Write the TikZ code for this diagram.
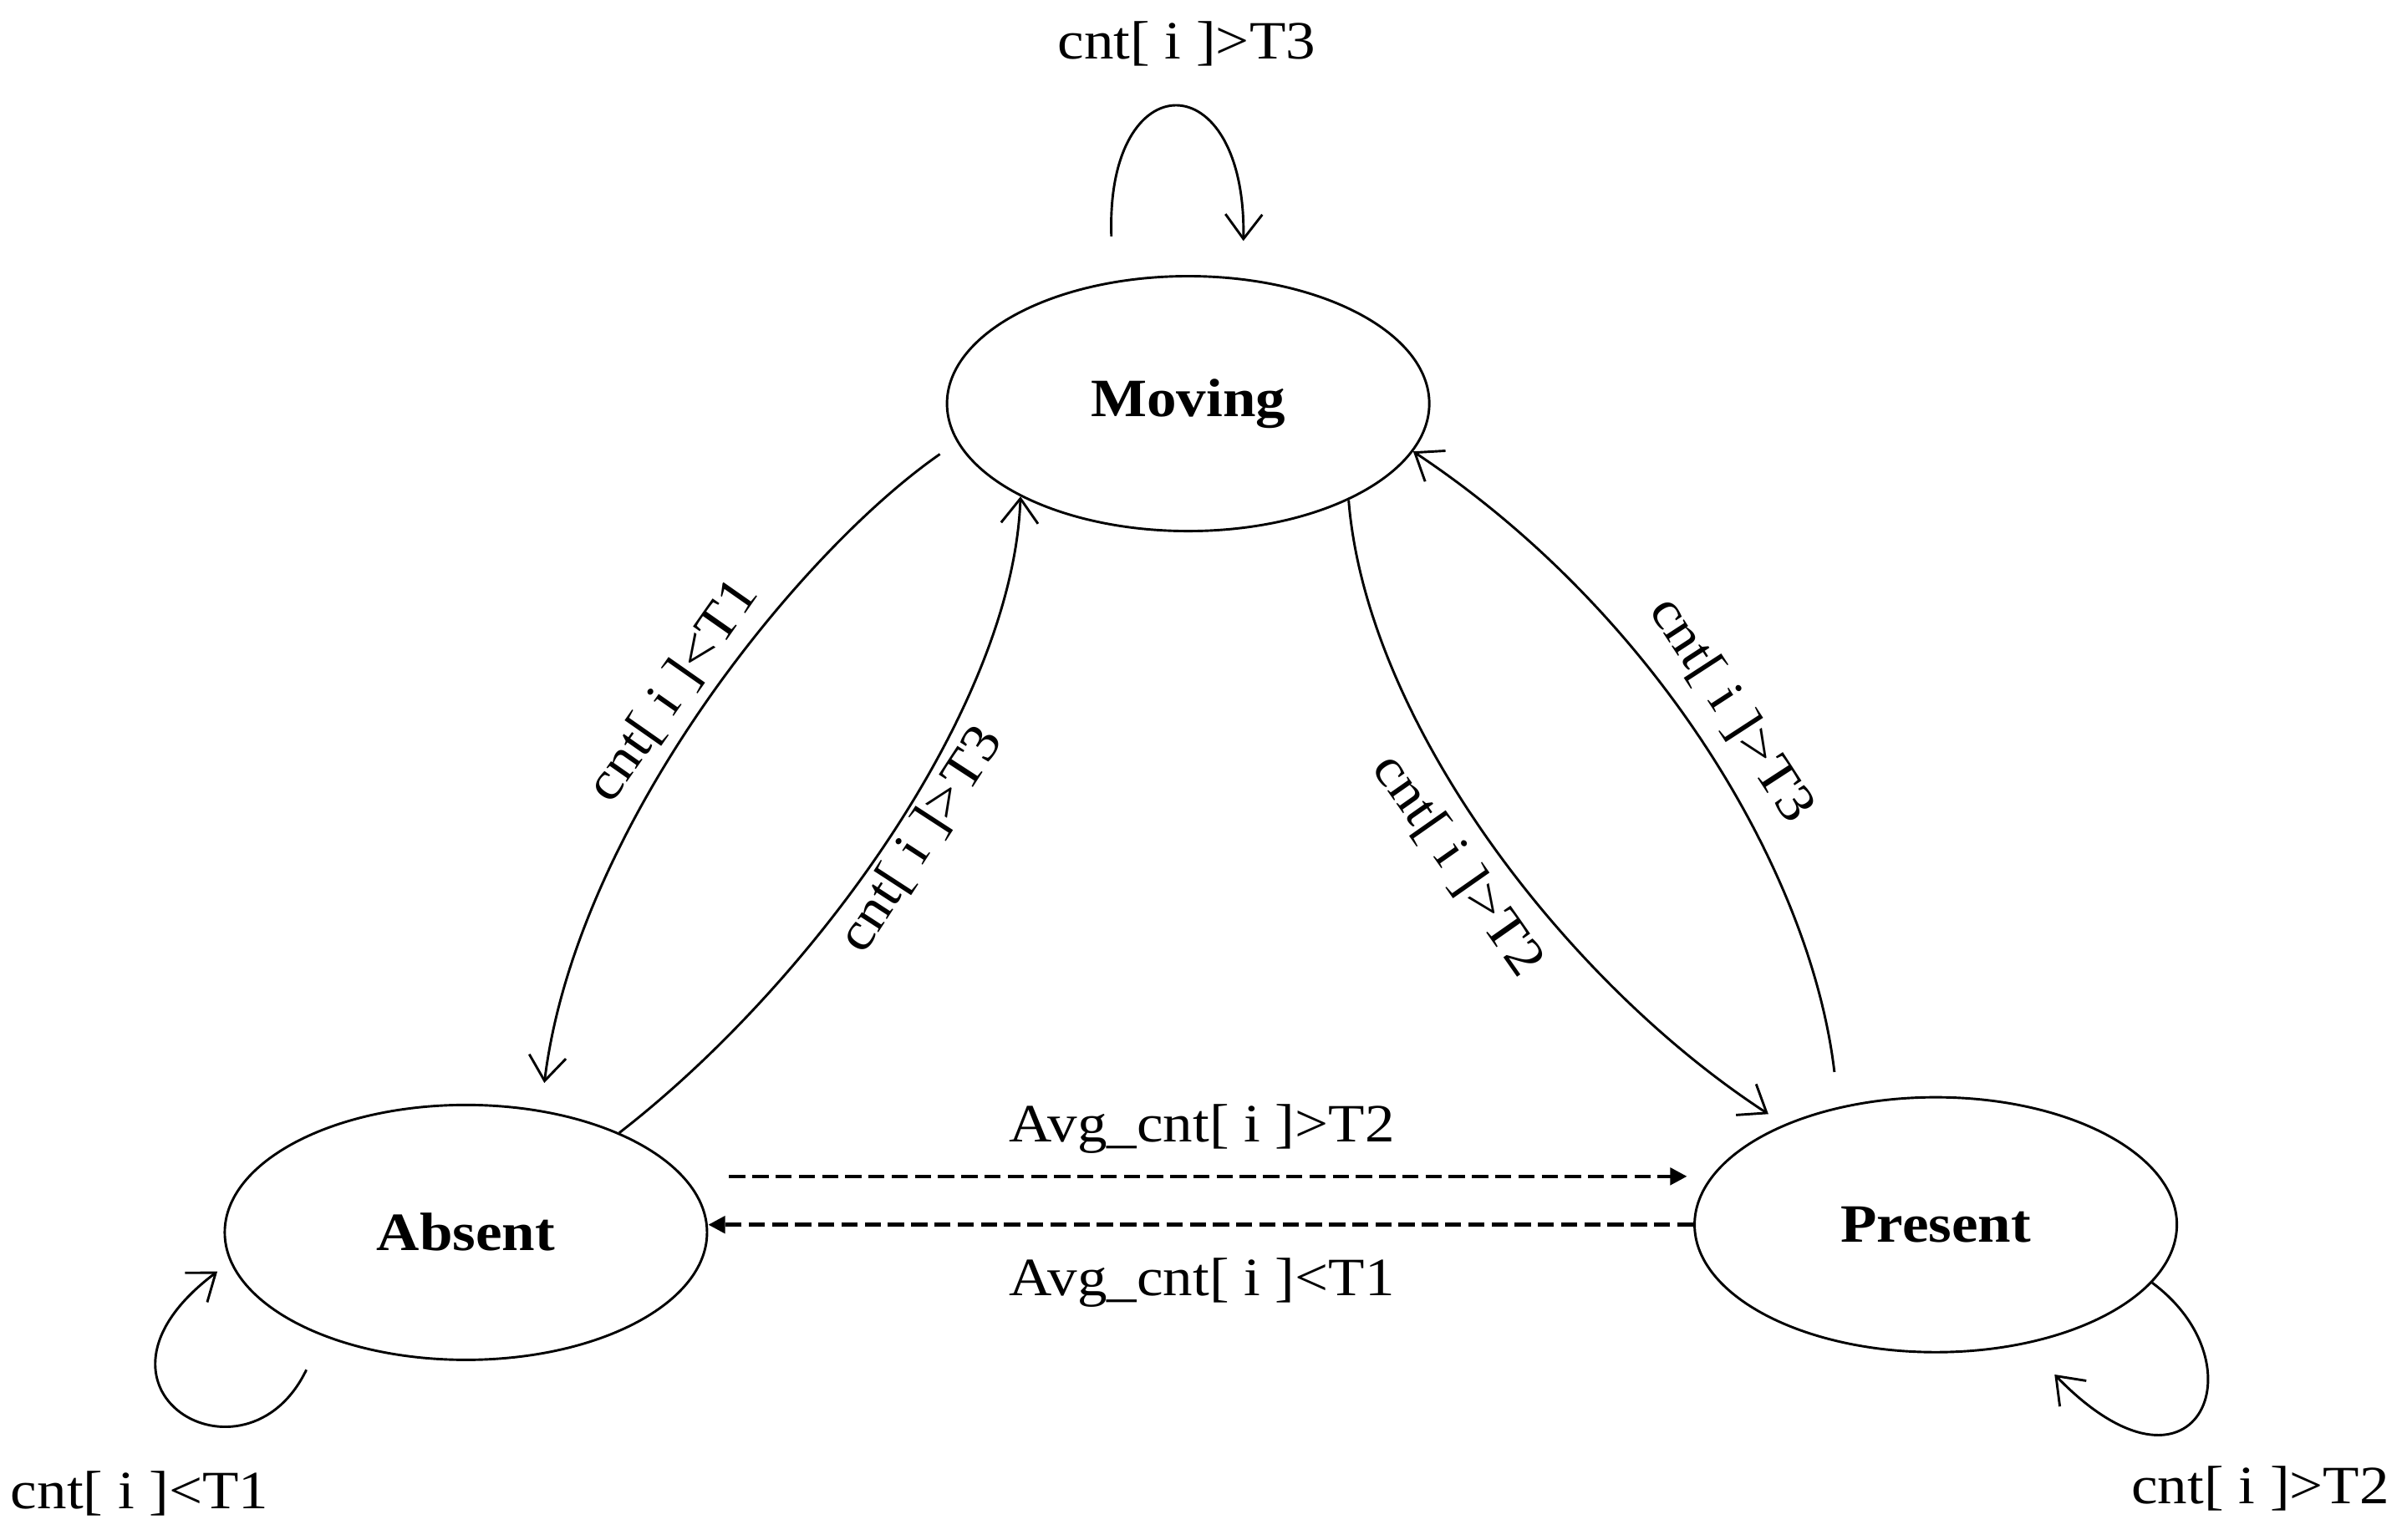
\documentclass[tikz,border=0pt]{standalone}
\usepackage{fontspec}
\setmainfont{Liberation Serif}[FakeStretch=1.1]
\usetikzlibrary{arrows.meta,shapes.geometric}
\begin{document}
\begin{tikzpicture}[x=0.01cm,y=-0.01cm,
  state/.style={draw,ellipse,line width=0.45pt,minimum width=3.14cm,minimum height=1.66cm,inner sep=0pt,font=\fontsize{10pt}{12pt}\selectfont\bfseries},
  lbl/.style={inner sep=0pt,font=\fontsize{10pt}{12pt}\selectfont},
  trans/.style={line width=0.45pt,-{Straight Barb[length=1.6mm,width=2.4mm]}},
  avg/.style={line width=0.7pt,dash pattern=on 3pt off 1.3pt,-{Triangle[length=1.1mm,width=1.1mm]}}]
\useasboundingbox (0,0) rectangle (1568,1003.4);

% states
\node[state] (Moving) at (774,263) {Moving};
\node[state] (Absent) at (303.5,803) {Absent};
\node[state] (Present) at (1261,798) {Present};

% free ends
\coordinate (mlA) at (724,154);
\coordinate (mlB) at (810,157);
\coordinate (ma1) at (612.3,295.9);
\coordinate (ma2) at (354.6,705.6);
\coordinate (mp2) at (1152,725.9);
\coordinate (pm1) at (1195,698.5);
\coordinate (al1) at (199.6,892.5);
\coordinate (al2) at (141.6,828.5);
\coordinate (pl2) at (1338.4,895.6);
\coordinate (ad1) at (475,766.5);
\coordinate (ad2) at (1099,766.5);

% transitions
\draw[trans] (mlA) .. controls (720,40) and (812,40) .. (mlB);
\draw[trans] (ma1) .. controls (520,360) and (375,540) .. (ma2);
\draw[trans] (Absent.33) .. controls (530,640) and (660,460) .. (Moving.209);
\draw[trans] (Moving.329) .. controls (890,470) and (1020,640) .. (mp2);
\draw[trans] (pm1) .. controls (1180,570) and (1080,400) .. (Moving.348);
\draw[trans] (al1) .. controls (160,975) and (40,905) .. (al2);
\draw[trans] (Present.345) .. controls (1475,890) and (1430,990) .. (pl2);

\draw[avg] (ad1) -- (ad2);
\draw[avg] (Present.west) -- (Present.west -| Absent.east);

% labels
\node[lbl,anchor=base] (lTop) at (773,38.6) {cnt[ i ]>T3};
\node[lbl,anchor=base] (lBL) at (91,983) {cnt[ i ]<T1};
\node[lbl,anchor=base] (lBR) at (1472.5,980) {cnt[ i ]>T2};
\node[lbl,anchor=base] (lAvgT) at (783,744) {Avg\_cnt[ i ]>T2};
\node[lbl,anchor=base] (lAvgB) at (783,844) {Avg\_cnt[ i ]<T1};
\node[lbl,rotate=55] (lL1) at (438.5,450) {cnt[ i ]<T1};
\node[lbl,rotate=57] (lL2) at (600,547) {cnt[ i ]>T3};
\node[lbl,rotate=-55] (lR1) at (949.6,564) {cnt[ i ]>T2};
\node[lbl,rotate=-57] (lR2) at (1128,462.5) {cnt[ i ]>T3};
\end{tikzpicture}
\end{document}
